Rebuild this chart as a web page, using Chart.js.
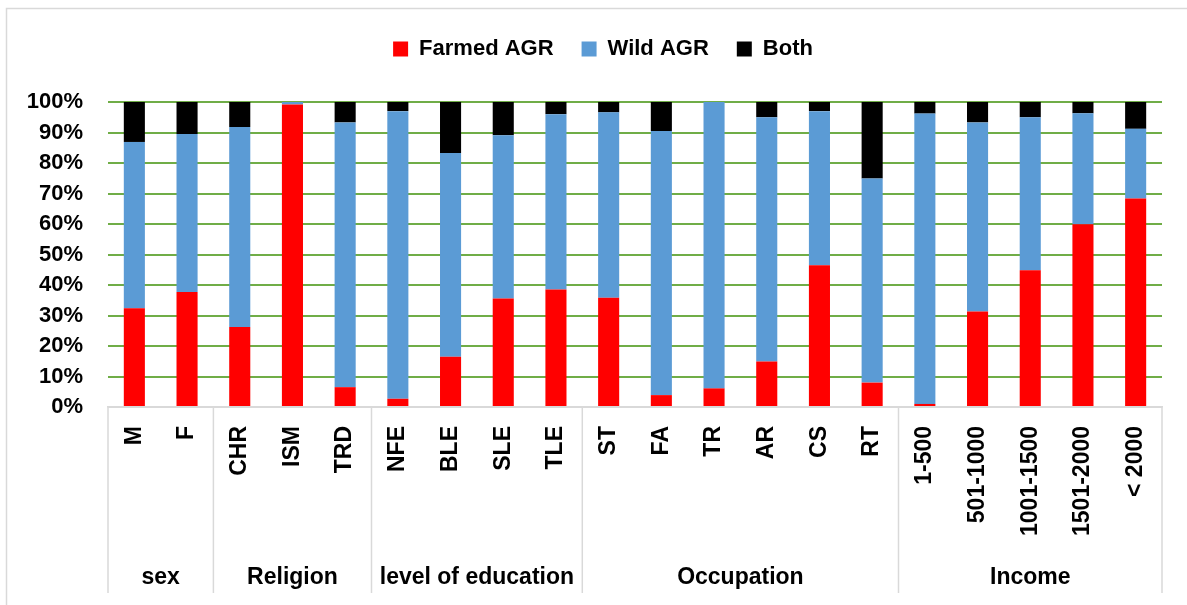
<!DOCTYPE html>
<html><head><meta charset="utf-8">
<script src="https://cdn.jsdelivr.net/npm/chart.js@4"></script>
<style>html,body{margin:0;padding:0;background:#fff}#wrap{width:1187px;height:605px;position:relative}</style>
</head><body><div id="wrap"><canvas id="c" width="1187" height="605"></canvas></div>
<script>
const categories = ['M','F','CHR','ISM','TRD','NFE','BLE','SLE','TLE','ST','FA','TR','AR','CS','RT','1-500','501-1000','1001-1500','1501-2000','< 2000'];
const groupNames = ['sex','Religion','level of education','Occupation','Income'];
const groupSizes = [2,3,4,6,5];
const farmedAGR = [32.4,37.7,26.2,99.2,6.5,2.7,16.5,35.6,38.5,35.8,3.9,6.1,14.9,46.5,8.0,1.0,31.3,44.8,59.9,68.4];
const wildAGR   = [54.5,51.8,65.6,0.8,86.8,94.3,66.8,53.5,57.5,60.8,86.6,93.9,80.1,50.5,66.9,95.2,62.0,50.2,36.4,22.8];
const both      = [13.1,10.5,8.2,0.0,6.7,3.0,16.7,10.9,4.0,3.4,9.5,0.0,5.0,3.0,25.1,3.8,6.7,5.0,3.7,8.8];
const yMin = 0, yMax = 100, yStep = 10;

const FONT = "'Liberation Sans', Arial, sans-serif";
Chart.defaults.font.family = FONT;

const groupPlugin = {
  id: 'groups',
  beforeLayout(chart) {
    const lg = chart.legend;
    if (lg && !lg._patched) {
      const f = lg.fit;
      lg.fit = function () { f.call(this); this.height += 32; };
      lg._patched = true;
    }
  },
  afterLayout(chart) {
    const lg = chart.legend;
    if (lg) { lg.left += 12; lg.right += 12; }
  },
  afterDraw(chart) {
    const ctx = chart.ctx, xs = chart.scales.x, area = chart.chartArea;
    ctx.save();
    ctx.strokeStyle = '#d9d9d9'; ctx.lineWidth = 1.5;
    ctx.strokeRect(6.5, 8.5, 1250, 700);
    const bounds = [area.left];
    let idx = 0;
    groupSizes.forEach((n) => {
      idx += n;
      if (idx < categories.length) {
        bounds.push((xs.getPixelForValue(idx - 1) + xs.getPixelForValue(idx)) / 2);
      } else bounds.push(area.right);
    });
    bounds.forEach(b => {
      ctx.beginPath(); ctx.moveTo(b, area.bottom); ctx.lineTo(b, 593); ctx.stroke();
    });
    ctx.fillStyle = '#000';
    ctx.font = 'bold 23px ' + FONT;
    ctx.textAlign = 'center'; ctx.textBaseline = 'middle';
    groupNames.forEach((name, g) => {
      ctx.fillText(name, (bounds[g] + bounds[g + 1]) / 2, 578);
    });
    ctx.restore();
  }
};

new Chart(document.getElementById('c'), {
  type: 'bar',
  data: {
    labels: categories,
    datasets: [
      {label: 'Farmed AGR', data: farmedAGR, backgroundColor: '#ff0000', barPercentage: 0.4, categoryPercentage: 1.0},
      {label: 'Wild AGR', data: wildAGR, backgroundColor: '#5b9bd5', barPercentage: 0.4, categoryPercentage: 1.0},
      {label: 'Both', data: both, backgroundColor: '#000000', barPercentage: 0.4, categoryPercentage: 1.0}
    ]
  },
  options: {
    responsive: false,
    animation: false,
    devicePixelRatio: 1,
    layout: {padding: {left: 20, right: 25, top: 10, bottom: 0}},
    plugins: {
      legend: {
        position: 'top',
        labels: {boxWidth: 15, boxHeight: 15, padding: 28, color: '#000', font: {family: FONT, size: 22, weight: 'bold'}}
      },
      tooltip: {enabled: false}
    },
    scales: {
      x: {
        stacked: true,
        grid: {display: false},
        border: {display: true, color: '#d9d9d9', width: 1.5},
        ticks: {autoSkip: false, minRotation: 90, maxRotation: 90, padding: 11, color: '#000', font: {family: FONT, size: 23, weight: 'bold'}},
        afterFit(s) { s.height = 198; }
      },
      y: {
        stacked: true, min: yMin, max: yMax,
        border: {display: false},
        grid: {color: c => (c.tick && c.tick.value === 0) ? '#d9d9d9' : '#70ad47', lineWidth: 2, drawTicks: false},
        ticks: {stepSize: yStep, padding: 25, color: '#000', font: {family: FONT, size: 22, weight: 'bold'}, callback: v => v + '%'},
        afterFit(s) { s.width = 88; }
      }
    }
  },
  plugins: [groupPlugin]
});
</script>
</body></html>
